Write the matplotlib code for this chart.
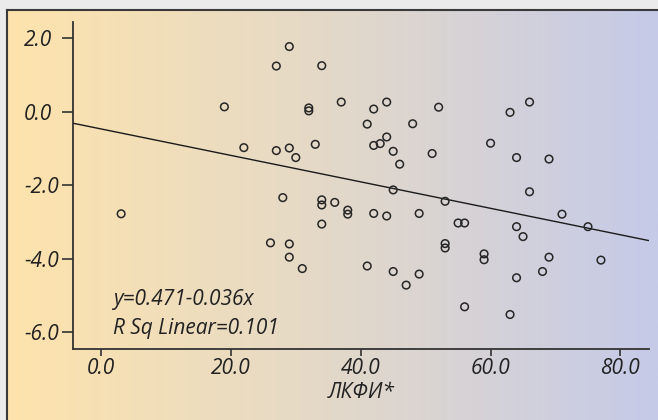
import numpy as np
import matplotlib
matplotlib.use("Agg")
import matplotlib.pyplot as plt
from matplotlib.colors import LinearSegmentedColormap

# ---- data ----
x_vals = [3.1, 19.0, 22.0, 26.1, 27.0, 27.0, 28.0, 29.0, 29.0, 29.0, 29.0, 30.0,
          31.0, 32.0, 32.0, 33.0, 34.0, 34.0, 34.0, 34.0, 36.0, 37.0, 38.0, 38.0,
          41.0, 41.0, 42.0, 42.0, 42.0, 43.0, 44.0, 44.0, 44.0, 45.0, 45.0, 45.0,
          46.0, 47.0, 48.0, 49.0, 49.0, 51.0, 52.0, 53.0, 53.0, 53.0, 55.0, 56.0,
          56.0, 59.0, 59.0, 60.0, 63.0, 63.0, 64.0, 64.0, 64.0, 65.0, 66.0, 66.0,
          68.0, 69.0, 69.0, 71.0, 75.0, 77.0]
y_vals = [-2.78, 0.13, -0.98, -3.57, 1.24, -1.06, -2.34, 1.77, -0.99, -3.60, -3.96, -1.25,
          -4.27, 0.10, 0.02, -0.89, 1.25, -2.40, -2.54, -3.06, -2.47, 0.26, -2.68, -2.79,
          -0.34, -4.20, 0.07, -0.92, -2.77, -0.87, 0.26, -0.69, -2.84, -1.08, -2.13, -4.35,
          -1.43, -4.72, -0.33, -2.77, -4.42, -1.14, 0.12, -2.44, -3.59, -3.71, -3.03, -3.03,
          -5.31, -3.87, -4.03, -0.86, -0.02, -5.52, -1.25, -3.13, -4.52, -3.40, 0.26, -2.18,
          -4.35, -1.29, -3.96, -2.79, -3.13, -4.04]
line_intercept = -0.471
line_slope = -0.036
x_ticks = [0, 20, 40, 60, 80]
y_ticks = [2, 0, -2, -4, -6]
x_label = "ЛКФИ*"
eq_text = "y=0.471-0.036x"
r2_text = "R Sq Linear=0.101"

W, H = 658, 420
fig = plt.figure(figsize=(W / 100, H / 100), dpi=100)
fig.patch.set_facecolor("#ebebeb")

FONT = "Open Sans"
TXT = "#222222"
FS = 15

# background panel with gradient
bg = fig.add_axes([7 / W, 0, 1 - 7 / W, 1 - 10 / H], zorder=0)
cmap = LinearSegmentedColormap.from_list(
    "bg", [(0.0, "#fee3ac"), (0.45, "#e6dac6"), (1.0, "#c5cae8")])
grad = np.linspace(0, 1, 256).reshape(1, -1)
bg.imshow(grad, aspect="auto", cmap=cmap, extent=[0, 1, 0, 1])
bg.set_xlim(0, 1)
bg.set_ylim(0, 1)
bg.set_xticks([])
bg.set_yticks([])
for s in ["right", "bottom"]:
    bg.spines[s].set_visible(False)
for s in ["left", "top"]:
    bg.spines[s].set_color("#3a3a3a")
    bg.spines[s].set_linewidth(1.5)

ax = fig.add_axes([72.7 / W, (H - 348.7) / H, (649 - 72.7) / W, (348.7 - 22.3) / H], zorder=1)
ax.patch.set_alpha(0)
ax.set_xlim(-4.36, 84.4)
ax.set_ylim(-6.45, 2.43)

ax.scatter(x_vals, y_vals, s=30, facecolors="none", edgecolors="#262626",
           linewidths=1.1, zorder=3)
xl = np.array(ax.get_xlim())
ax.plot(xl, line_intercept + line_slope * xl, color="#1a1a1a", lw=1.0, zorder=2)

for s in ["top", "right"]:
    ax.spines[s].set_visible(False)
for s in ["left", "bottom"]:
    ax.spines[s].set_color("#333333")
    ax.spines[s].set_linewidth(1.3)

ax.set_xticks(x_ticks)
ax.set_xticklabels([f"{v:.1f}" for v in x_ticks])
ax.set_yticks(y_ticks)
ax.set_yticklabels([f"{v:.1f}" for v in y_ticks])
ax.tick_params(axis="x", length=5, width=1.2, color="#333333", pad=2,
               labelsize=FS, labelcolor=TXT)
ax.tick_params(axis="y", length=8, width=1.2, color="#333333", pad=27,
               labelsize=FS, labelcolor=TXT)
for lab in ax.get_yticklabels():
    lab.set_horizontalalignment("left")
for lab in ax.get_xticklabels() + ax.get_yticklabels():
    lab.set_fontfamily(FONT)
    lab.set_fontstyle("italic")

ax.set_xlabel(x_label, fontsize=FS, fontstyle="italic", family=FONT, color=TXT,
              labelpad=2)

ax.text(1.85, -5.12, eq_text, fontsize=FS, fontstyle="italic", family=FONT,
        color=TXT, va="center", ha="left")
ax.text(1.85, -5.89, r2_text, fontsize=FS, fontstyle="italic", family=FONT,
        color=TXT, va="center", ha="left")

fig.savefig("out.png", dpi=100)
